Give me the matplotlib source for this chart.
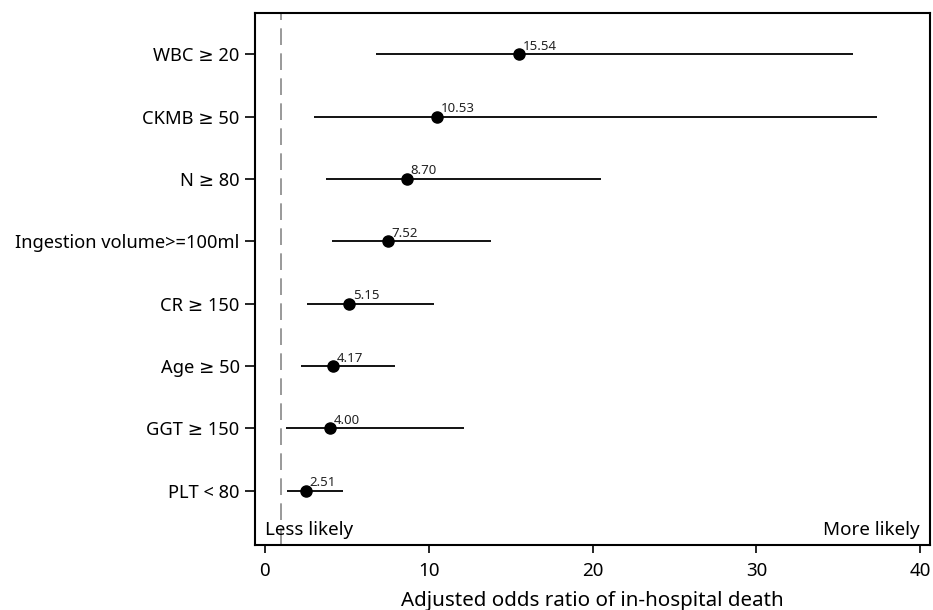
import matplotlib.pyplot as plt
import numpy as np

plt.rcParams['font.family'] = ['Noto Sans', 'DejaVu Sans']

# 資料（由下往上）
labels = ['PLT < 80', 'GGT ≥ 150', 'Age ≥ 50', 'CR ≥ 150',
          'Ingestion volume>=100ml', 'N ≥ 80', 'CKMB ≥ 50', 'WBC ≥ 20']
odds = [2.51, 4.00, 4.17, 5.15, 7.52, 8.70, 10.53, 15.54]
ci_low = [1.36, 1.32, 2.20, 2.59, 4.13, 3.73, 2.99, 6.76]
ci_high = [4.78, 12.14, 7.94, 10.34, 13.79, 20.53, 37.34, 35.88]
xticks = [0, 10, 20, 30, 40]

fig = plt.figure(figsize=(9.33, 6.10), dpi=100)
ax = fig.add_axes([0.2733, 0.1066, 0.7235, 0.8721])

y = np.arange(len(labels))

# 參考線 OR = 1
ax.axvline(1, color='#888888', lw=1.2, ls=(0, (10, 5)), zorder=1)

# 信賴區間與點
ax.hlines(y, ci_low, ci_high, color='black', lw=1.3, zorder=2)
ax.plot(odds, y, 'o', color='black', ms=8, zorder=3)

for xi, yi, v in zip(odds, y, odds):
    ax.annotate(f'{v:.2f}', (xi, yi), xytext=(2.5, 1), textcoords='offset points',
                fontsize=9.5, color='#222222', ha='left', va='bottom')

ax.text(0.015, 0.012, 'Less likely', transform=ax.transAxes, fontsize=13.5,
        ha='left', va='bottom')
ax.text(0.985, 0.012, 'More likely', transform=ax.transAxes, fontsize=13.5,
        ha='right', va='bottom')

ax.set_yticks(y)
ax.set_yticklabels(labels, fontsize=13.2)
ax.set_xticks(xticks)
ax.tick_params(axis='x', labelsize=13.5, length=6, width=1.2, pad=6)
ax.tick_params(axis='y', length=7, width=1.2, pad=4)
ax.set_xlim(-0.6, 40.6)
ax.set_ylim(-0.87, 7.66)
ax.set_xlabel('Adjusted odds ratio of in-hospital death', fontsize=14.8, labelpad=8)

for s in ax.spines.values():
    s.set_linewidth(1.5)

fig.savefig('out.png', dpi=100)
